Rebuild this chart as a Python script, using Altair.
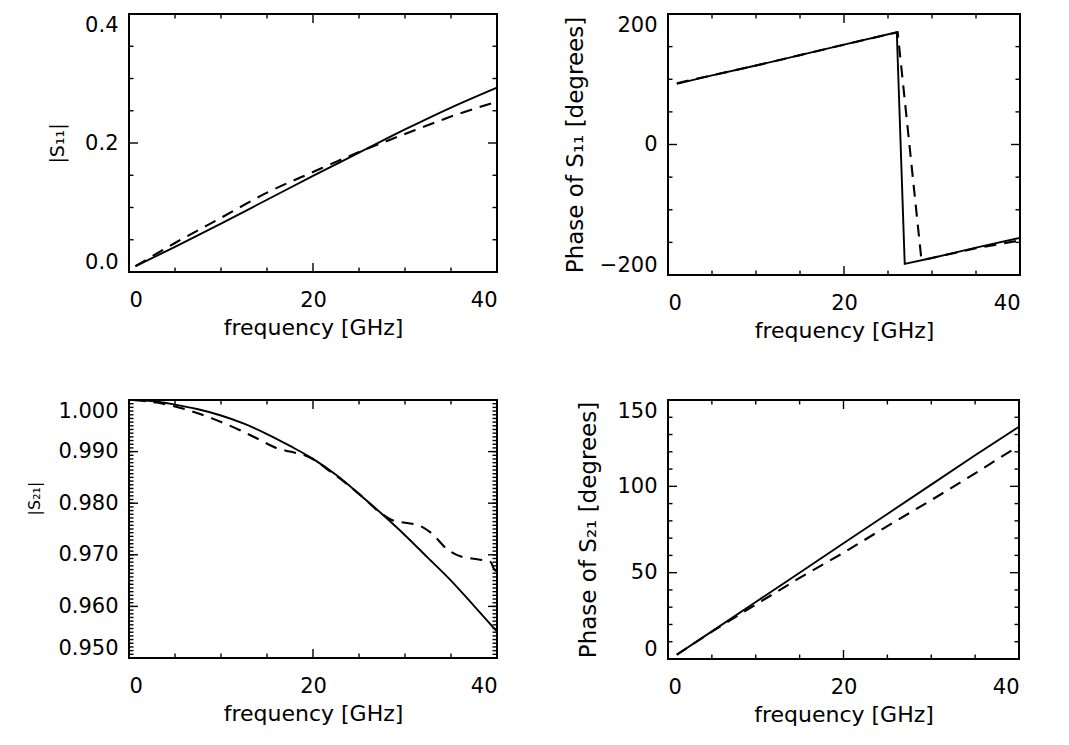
import altair as alt
import pandas as pd

FONT = "DejaVu Sans"

# ---------------- data ----------------
# Panel 1: |S11| vs frequency
s11m_f_solid = [0.7, 5, 10, 15, 20, 25, 30, 35, 40]
s11m_solid = [0.009, 0.039, 0.075, 0.112, 0.149, 0.185, 0.221, 0.255, 0.286]
s11m_f_dash = [0.7, 5, 10, 15, 20, 25, 30, 35, 40]
s11m_dash = [0.009, 0.045, 0.084, 0.123, 0.155, 0.186, 0.214, 0.241, 0.264]

# Panel 2: phase of S11
s11p_f_solid = [1, 5, 10, 15, 20, 26.0, 26.9, 30, 35, 40]
s11p_solid = [93, 106, 121, 137, 153, 172, -183, -174, -158, -143]
s11p_f_dash = [1, 5, 10, 15, 20, 26.1, 28.8, 30, 35, 40]
s11p_dash = [94, 106, 121, 137, 153, 172, -177, -174, -159, -147]

# Panel 3: |S21|
s21m_f_solid = [0.3, 2.5, 5, 7.5, 10, 12.5, 15, 17.5, 20, 22.5, 25, 27.5, 30, 32.5, 35, 37.5, 40]
s21m_solid = [1.0000, 0.9998, 0.9991, 0.9982, 0.9970, 0.9954, 0.9934, 0.9911, 0.9886,
              0.9855, 0.9818, 0.9779, 0.9738, 0.9694, 0.9650, 0.9601, 0.9551]
s21m_f_dash = [0.5, 3, 6.5, 9.5, 12, 14.3, 16, 17.5, 19.5, 22, 25, 27.5, 28.5, 30, 31.5,
               33, 34.5, 36, 38, 39.3, 39.7, 40]
s21m_dash = [1.0000, 0.9995, 0.9980, 0.9961, 0.9942, 0.9922, 0.9907, 0.9900, 0.9890, 0.9860,
             0.9818, 0.9779, 0.9768, 0.9762, 0.9757, 0.9740, 0.9712, 0.9697, 0.9691, 0.9686,
             0.9672, 0.9668]

# Panel 4: phase of S21
s21p_f_solid = [1, 5, 10, 15, 20, 25, 30, 35, 40]
s21p_solid = [2.5, 16, 33, 50, 67, 84, 101, 118, 134.5]
s21p_f_dash = [1, 5, 10, 15, 20, 25, 30, 35, 40]
s21p_dash = [2.5, 15.8, 31.5, 47, 61.5, 77, 92, 107.5, 123.5]

x_labels = [0, 20, 40]
x_major_ticks = [20]
x_minor_ticks = [5, 10, 15, 25, 30, 35]


def line_df(f, v):
    return pd.DataFrame({"f": f, "v": v})


def panel(fs, vs, fd, vd, ydom, ylabels, ymajor, yminor, ytitle, yfmt,
          w, h, ytitle_size, interp, ytitle_pad, title_y=None):
    xs = alt.Scale(domain=[0, 40], nice=False, zero=False)
    ys = alt.Scale(domain=ydom, nice=False, zero=False)
    x_axis = alt.Axis(values=x_labels, format="d", title="frequency [GHz]",
                      ticks=False, domain=False, grid=False,
                      labelPadding=17, titlePadding=7,
                      labelFont=FONT, labelFontSize=21, titleFont=FONT,
                      titleFontSize=22, titleFontWeight="normal",
                      labelColor="black", titleColor="black")
    y_kw = dict(values=ylabels, format=yfmt, title=ytitle, ticks=False,
                domain=False, grid=False, labelFlush=True,
                labelPadding=11, titlePadding=ytitle_pad,
                labelFont=FONT, labelFontSize=21, titleFont=FONT,
                titleFontSize=ytitle_size, titleFontWeight="normal",
                labelColor="black", titleColor="black")
    if title_y is not None:
        y_kw["titleY"] = title_y
    y_axis = alt.Axis(**y_kw)

    solid = alt.Chart(line_df(fs, vs)).mark_line(
        color="black", strokeWidth=1.9, interpolate=interp
    ).encode(x=alt.X("f:Q", scale=xs, axis=x_axis),
             y=alt.Y("v:Q", scale=ys, axis=y_axis))
    dashed = alt.Chart(line_df(fd, vd)).mark_line(
        color="black", strokeWidth=2.1, strokeDash=[12, 8], interpolate=interp
    ).encode(x=alt.X("f:Q", scale=xs, axis=x_axis),
             y=alt.Y("v:Q", scale=ys, axis=y_axis))

    # tick marks on all four sides, pointing inwards (outer half clipped away)
    yt_rows = []
    for side in (0, 40):
        for t in ymajor:
            yt_rows.append({"t": t, "xpos": side, "s": 18})
        for t in yminor:
            yt_rows.append({"t": t, "xpos": side, "s": 9})
    xt_rows = []
    for side in ydom:
        for t in x_major_ticks:
            xt_rows.append({"t": t, "ypos": side, "s": 18})
        for t in x_minor_ticks:
            xt_rows.append({"t": t, "ypos": side, "s": 9})

    yticks = alt.Chart(pd.DataFrame(yt_rows)).mark_tick(
        orient="horizontal", thickness=1.4, color="black", opacity=1, clip=True
    ).encode(x=alt.X("xpos:Q", scale=xs, axis=x_axis),
             y=alt.Y("t:Q", scale=ys, axis=y_axis),
             size=alt.Size("s:Q", scale=None, legend=None))
    xticks = alt.Chart(pd.DataFrame(xt_rows)).mark_tick(
        orient="vertical", thickness=1.4, color="black", opacity=1, clip=True
    ).encode(x=alt.X("t:Q", scale=xs, axis=x_axis),
             y=alt.Y("ypos:Q", scale=ys, axis=y_axis),
             size=alt.Size("s:Q", scale=None, legend=None))

    return alt.layer(yticks, xticks, solid, dashed).properties(width=w, height=h)


p1 = panel(s11m_f_solid, s11m_solid, s11m_f_dash, s11m_dash,
           [0, 0.4], [0.0, 0.2, 0.4], [0.0, 0.2, 0.4],
           [0.05, 0.1, 0.15, 0.25, 0.3, 0.35],
           "|S₁₁|", ".1f", 368, 258, 19, "monotone", 17)

p2 = panel(s11p_f_solid, s11p_solid, s11p_f_dash, s11p_dash,
           [-200, 200], [-200, 0, 200], [-200, 0, 200],
           [-150, -100, -50, 50, 100, 150],
           "Phase of S₁₁ [degrees]", "d", 352, 261, 23, "linear", 12)

s21_minor = [round(0.95 + i * 0.05 / 70, 6) for i in range(71)]
p3 = panel(s21m_f_solid, s21m_solid, s21m_f_dash, s21m_dash,
           [0.95, 1.0], [0.95, 0.96, 0.97, 0.98, 0.99, 1.0],
           [0.95, 0.96, 0.97, 0.98, 0.99, 1.0], s21_minor,
           "|S₂₁|", ".3f", 368, 258, 16, "monotone", 15, title_y=98)

p4 = panel(s21p_f_solid, s21p_solid, s21p_f_dash, s21p_dash,
           [0, 150], [0, 50, 100, 150], [0, 50, 100, 150],
           [10, 20, 30, 40, 60, 70, 80, 90, 110, 120, 130, 140],
           "Phase of S₂₁ [degrees]", "d", 351, 259, 23, "linear", 16)

chart = alt.concat(p1, p2, p3, p4, columns=2,
                   spacing={"row": 52, "column": 60}).properties(
    padding={"left": 17, "top": 5, "right": 0, "bottom": 0},
    background="white"
).configure_view(
    stroke="black", strokeWidth=2
)

chart.save("out.html", embed_options={"renderer": "svg", "actions": False})
